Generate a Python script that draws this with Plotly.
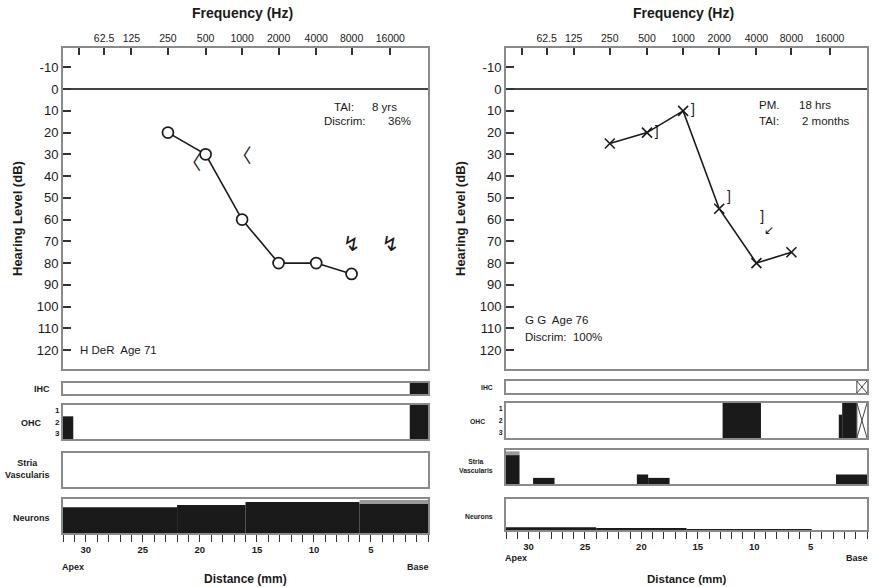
import plotly.graph_objects as go

W, H = 873, 587
FONT = "Liberation Sans, Arial, Helvetica, sans-serif"

# ---------------- data ----------------
freq_tick_hz = [31.25, 62.5, 125, 250, 500, 1000, 2000, 4000, 8000, 16000]
freq_tick_text = ["", "62.5", "125", "250", "500", "1000", "2000", "4000", "8000", "16000"]
freq_place_mm = [30.6, 28.4, 26.0, 22.8, 19.5, 16.3, 13.1, 9.8, 6.7, 3.3]
hl_ticks = [-10, 0, 10, 20, 30, 40, 50, 60, 70, 80, 90, 100, 110, 120]
dist_ticks = list(range(0, 33))
dist_labelled = [30, 25, 20, 15, 10, 5]
ohc_row_labels = ["1", "2", "3"]

left_freq = [250, 500, 1000, 2000, 4000, 8000]
left_air_db = [20, 30, 60, 80, 80, 85]
left_bone_freq = [500, 1000]
left_bone_db = [35, 32]
left_nr_freq = [8000, 16000]
left_nr_db = [72, 72]

right_freq = [250, 500, 1000, 2000, 4000, 8000]
right_air_db = [25, 20, 10, 55, 80, 75]
right_bone_freq = [500, 1000, 2000, 4000]
right_bone_db = [20, 10, 50, 59]
right_nr_freq = [4000]
right_nr_db = [59]

# histopathology: segments given as distance from base (mm)
left_ihc_start, left_ihc_end, left_ihc_val = [1.6], [0.0], [1]
left_ohc_start, left_ohc_end, left_ohc_rows = [32.0, 1.6], [31.1, 0.0], [2, 3]
left_stria_start, left_stria_end, left_stria_pct = [], [], []
left_neur_start = [32, 22, 16, 6]
left_neur_end = [22, 16, 6, 0]
left_neur_pct = [76, 82, 91, 85]
left_neur_gray_start, left_neur_gray_end, left_neur_gray_top = [6], [0], [97]

right_ihc_start, right_ihc_end, right_ihc_val = [], [], []
right_ihc_nodata = [(0.9, 0.0)]
right_ohc_start, right_ohc_end, right_ohc_rows = [12.8, 2.5, 2.2], [9.4, 2.2, 0.9], [3, 2, 3]
right_ohc_nodata = [(0.9, 0.0)]
right_stria_start = [32.0, 29.6, 20.4, 19.4, 2.75]
right_stria_end = [30.8, 27.7, 19.4, 17.5, 0.0]
right_stria_pct = [85, 18, 28, 18, 28]
right_stria_gray_start, right_stria_gray_end, right_stria_gray_top = [32.0], [30.8], [96]
right_neur_start = [32, 24, 16]
right_neur_end = [24, 16, 4.9]
right_neur_pct = [9, 5, 3]

freq_to_mm = dict(zip(freq_tick_hz, freq_place_mm))

# ---------------- layout geometry (pixels) ----------------
panels = {
    "L": dict(x0=63, x1=428, aud=(48, 369), ihc=(383, 394), ohc=(405, 439),
              stria=(453, 487), neur=(499, 533), lab=9, row=8),
    "R": dict(x0=506, x1=867, aud=(48, 369), ihc=(381, 393), ohc=(403, 438),
              stria=(450, 484), neur=(499, 530), lab=6.8, row=7),
}
BORDER = "#8a8a8a"
INK = "#1a1a1a"
NB = "\u00a0"

fig = go.Figure()
layout = dict(width=W, height=H, margin=dict(l=0, r=0, t=0, b=0),
              paper_bgcolor="white", plot_bgcolor="white", showlegend=False,
              barmode="overlay", font=dict(family=FONT, color=INK))
annotations = []


def ydom(tb):
    t, b = tb
    return [1 - b / H, 1 - t / H]


def add_axes(i, p, key, yrange, **kw):
    xa = dict(domain=[p["x0"] / W, p["x1"] / W], range=[32, 0], anchor="y%d" % i,
              showline=True, mirror=True, linecolor=BORDER, linewidth=2,
              showgrid=False, zeroline=False, ticks="", showticklabels=False)
    ya = dict(domain=ydom(p[key]), range=yrange, anchor="x%d" % i,
              showline=True, mirror=True, linecolor=BORDER, linewidth=2,
              showgrid=False, zeroline=False, ticks="", showticklabels=False)
    xa.update(kw.get("x", {}))
    ya.update(kw.get("y", {}))
    layout["xaxis%d" % i] = xa
    layout["yaxis%d" % i] = ya


def seg_bars(i, starts, ends, tops, bases=None, color=INK):
    cen = [(a + b) / 2 for a, b in zip(starts, ends)]
    wid = [abs(a - b) for a, b in zip(starts, ends)]
    if bases is None:
        bases = [0] * len(starts)
    fig.add_trace(go.Bar(x=cen, y=[t - b for t, b in zip(tops, bases)], base=bases,
                         width=wid, marker=dict(color=color, line=dict(width=0)),
                         xaxis="x%d" % i, yaxis="y%d" % i, hoverinfo="skip"))


def nodata(i, segs, top):
    xs, ys = [], []
    for a, b in segs:
        xs += [a, b, None, a, b, None, a, a, None]
        ys += [top, 0, None, 0, top, None, 0, top, None]
        fig.add_trace(go.Bar(x=[(a + b) / 2], y=[top], width=[abs(a - b)], base=[0],
                             marker=dict(color="white", line=dict(width=0)),
                             xaxis="x%d" % i, yaxis="y%d" % i, hoverinfo="skip"))
    fig.add_trace(go.Scatter(x=xs, y=ys, mode="lines", line=dict(color="#444", width=1),
                             xaxis="x%d" % i, yaxis="y%d" % i, hoverinfo="skip"))


def panel(side, base, d):
    p = panels[side]
    ia, ii, io, isv, ineu = base, base + 1, base + 2, base + 3, base + 4
    cx = (p["x0"] + p["x1"]) / 2
    # audiogram axes
    add_axes(ia, p, "aud", [128.7, -18.9],
             x=dict(side="top", tickvals=freq_place_mm, ticktext=freq_tick_text,
                    ticks="inside", ticklen=7, tickwidth=1.5, tickcolor="#333",
                    showticklabels=True, tickfont=dict(size=10.5, family=FONT, color=INK)),
             y=dict(tickvals=hl_ticks, ticktext=[str(v) for v in hl_ticks],
                    ticks="inside", ticklen=8, tickwidth=1.5,
                    tickcolor="#333", showticklabels=True, zeroline=True,
                    zerolinecolor="#444", zerolinewidth=2,
                    tickfont=dict(size=13, family=FONT, color=INK)))
    add_axes(ii, p, "ihc", [0, 1])
    add_axes(io, p, "ohc", [0, 3],
             y=dict(tickvals=[2.5, 1.5, 0.5], ticktext=["<b>%s</b>" % r for r in ohc_row_labels],
                    showticklabels=True, tickfont=dict(size=p["row"], family=FONT, color=INK)))
    add_axes(isv, p, "stria", [0, 100])
    add_axes(ineu, p, "neur", [0, 100],
             x=dict(tickvals=dist_ticks,
                    ticktext=["<b>%d</b>" % t if t in dist_labelled else "" for t in dist_ticks],
                    ticks="outside", ticklen=7, tickwidth=1.2, tickcolor="#333",
                    showticklabels=True, tickfont=dict(size=9.5, family=FONT, color=INK)))

    # air conduction
    xs = [freq_to_mm[f] for f in d["freq"]]
    if d["sym"] == "circle":
        marker = dict(symbol="circle", size=11, color="white", line=dict(color=INK, width=1.7))
    else:
        marker = dict(symbol="x-thin", size=10, color=INK, line=dict(color=INK, width=1.6))
    fig.add_trace(go.Scatter(x=xs, y=d["air"], mode="lines+markers",
                             line=dict(color=INK, width=1.6), marker=marker,
                             xaxis="x%d" % ia, yaxis="y%d" % ia, hoverinfo="skip"))
    # bone conduction
    fig.add_trace(go.Scatter(x=[freq_to_mm[f] for f in d["bfreq"]], y=d["bone"], mode="text",
                             text=d["btext"], textposition=d["bpos"],
                             textfont=dict(size=d["bsize"], family=d["bfont"], color=INK),
                             xaxis="x%d" % ia, yaxis="y%d" % ia, hoverinfo="skip"))
    # no response
    fig.add_trace(go.Scatter(x=[freq_to_mm[f] for f in d["nfreq"]], y=d["ndb"],
                             mode="markers+text",
                             marker=dict(size=d["npad"], color="rgba(0,0,0,0)"),
                             text=[d["nsym"]] * len(d["ndb"]), textposition=d["npos"],
                             textfont=dict(size=d["nsize"], family="DejaVu Sans", color=INK),
                             xaxis="x%d" % ia, yaxis="y%d" % ia, hoverinfo="skip"))

    # histopathology
    seg_bars(ii, *d["ihc"])
    seg_bars(io, *d["ohc"])
    seg_bars(isv, *d["stria"])
    if d.get("stria_gray"):
        s, e, t = d["stria_gray"]
        seg_bars(isv, s, e, t, bases=[d["stria"][2][0]] * len(s), color="#9a9a9a")
    seg_bars(ineu, *d["neur"])
    if d.get("neur_gray"):
        s, e, t = d["neur_gray"]
        seg_bars(ineu, s, e, t, bases=[d["neur"][2][-1]] * len(s), color="#9a9a9a")
    if d.get("ihc_nd"):
        nodata(ii, d["ihc_nd"], 1)
    if d.get("ohc_nd"):
        nodata(io, d["ohc_nd"], 3)

    # text
    def ann(x, y, text, size, xanchor="center", bold=False, angle=0, align="center"):
        annotations.append(dict(x=x / W, y=1 - y / H, xref="paper", yref="paper",
                                text=("<b>%s</b>" % text) if bold else text,
                                showarrow=False, xanchor=xanchor, yanchor="middle",
                                textangle=angle, align=align,
                                font=dict(size=size, family=FONT, color=INK)))
    ann(cx - 3, 13, "Frequency (Hz)", 14, bold=True)
    ann(p["x0"] - 45, 219, "Hearing Level (dB)", 13, bold=True, angle=-90)
    ann(cx, 579, "Distance (mm)", 12 if side == "L" else 11.5, bold=True)
    ya = 567 if side == "L" else 558
    ann(p["x0"] - 3, ya, "Apex", 9, xanchor="left", bold=True)
    ann(p["x1"] + 3, ya, "Base", 9, xanchor="right", bold=True)
    lx = p["x0"] - 11
    ann(lx, (p["ihc"][0] + p["ihc"][1]) / 2, "IHC", p["lab"], xanchor="right", bold=True)
    ann(p["x0"] - 19, (p["ohc"][0] + p["ohc"][1]) / 2 + 1, "OHC", p["lab"], xanchor="right", bold=True)
    ann(lx, (p["stria"][0] + p["stria"][1]) / 2 - 1, "Stria<br>Vascularis", p["lab"],
        xanchor="right", bold=True)
    ann(lx, (p["neur"][0] + p["neur"][1]) / 2 + 2, "Neurons", p["lab"], xanchor="right", bold=True)
    for (x, y, t, anc) in d["notes"]:
        ann(x, y, t, 11.5, xanchor=anc)


panel("L", 1, dict(
    freq=left_freq, air=left_air_db, sym="circle",
    bfreq=left_bone_freq, bone=left_bone_db,
    btext=["\u3008" + NB, "\u3008"], bpos=["middle left", "middle center"],
    bsize=19, bfont="Noto Sans CJK JP",
    nfreq=left_nr_freq, ndb=left_nr_db, nsym="\u21af", npos="middle center", nsize=21, npad=1,
    ihc=(left_ihc_start, left_ihc_end, left_ihc_val),
    ohc=(left_ohc_start, left_ohc_end, left_ohc_rows),
    stria=(left_stria_start, left_stria_end, left_stria_pct),
    neur=(left_neur_start, left_neur_end, left_neur_pct),
    neur_gray=(left_neur_gray_start, left_neur_gray_end, left_neur_gray_top),
    notes=[(332, 107, "TAI:", "left"), (370, 107, "8 yrs", "left"),
           (322, 121, "Discrim:", "left"), (386, 121, "36%", "left"),
           (78, 350, "H DeR  Age 71", "left")],
))

panel("R", 6, dict(
    freq=right_freq, air=right_air_db, sym="x",
    bfreq=right_bone_freq, bone=right_bone_db,
    btext=[NB * 2 + "]"] * 3 + [NB + "]"], bpos="middle right",
    bsize=14, bfont=FONT,
    nfreq=right_nr_freq, ndb=right_nr_db, nsym="\u2199", npos="bottom right",
    nsize=12, npad=10,
    ihc=(right_ihc_start, right_ihc_end, right_ihc_val),
    ohc=(right_ohc_start, right_ohc_end, right_ohc_rows),
    stria=(right_stria_start, right_stria_end, right_stria_pct),
    stria_gray=(right_stria_gray_start, right_stria_gray_end, right_stria_gray_top),
    neur=(right_neur_start, right_neur_end, right_neur_pct),
    ihc_nd=right_ihc_nodata, ohc_nd=right_ohc_nodata,
    notes=[(757, 105, "PM.", "left"), (797, 105, "18 hrs", "left"),
           (757, 121, "TAI:", "left"), (800, 121, "2 months", "left"),
           (523, 320, "G G  Age 76", "left"), (523, 337, "Discrim:  100%", "left")],
))

layout["annotations"] = annotations
fig.update_layout(**layout)
fig.write_html("out.html")
